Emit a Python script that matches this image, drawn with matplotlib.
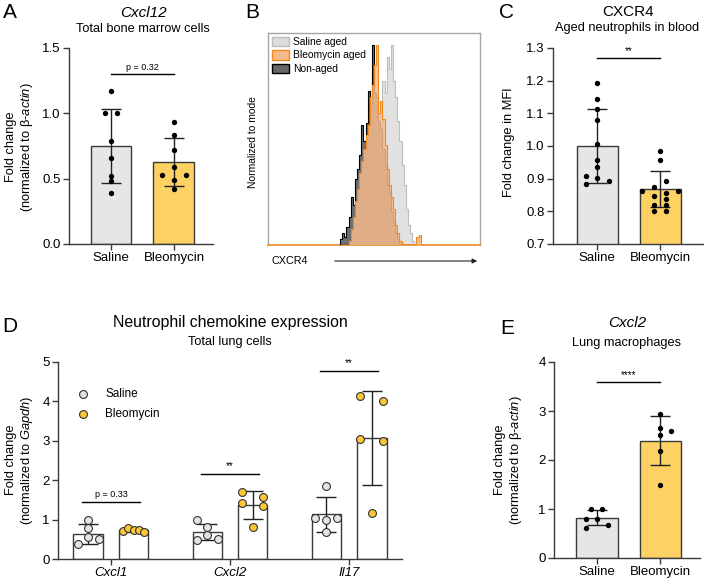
import matplotlib
matplotlib.use('Agg')
import matplotlib.pyplot as plt
from matplotlib.patches import Patch, FancyArrowPatch
import numpy as np

W, H = 704, 587
plt.rcParams['font.family'] = ['Liberation Sans', 'DejaVu Sans']
plt.rcParams['mathtext.fontset'] = 'custom'
plt.rcParams['mathtext.rm'] = 'Liberation Sans'
plt.rcParams['mathtext.it'] = 'Liberation Sans:italic'

# ---------------- data ----------------
groups = ['Saline', 'Bleomycin']

# A: Cxcl12 bone marrow
a_means = [0.75, 0.63]
a_sds = [0.284, 0.185]
a_sal = [1.17, 1.0, 1.0, 0.79, 0.66, 0.52, 0.48, 0.39]
a_sal_off = [0, -0.09, 0.09, 0, 0, 0, 0, 0]
a_bleo = [0.936, 0.834, 0.72, 0.587, 0.525, 0.525, 0.49, 0.418]
a_bleo_off = [0, 0, 0, 0, -0.19, 0.19, 0, 0]

# B: CXCR4 histograms (normalized to mode)
b_edges = list(range(33, 74))
b_saline_aged = [0, 0, 0, 0, 0, 0, 0, 2, 6, 10, 16, 22, 28, 34, 40, 46, 50, 55, 52, 62,
                 58, 82, 76, 94, 88, 100, 82, 74, 62, 52, 40, 30, 18, 10, 6, 2, 0, 3, 0, 0]
b_bleo_aged = [0, 0, 0, 0, 0, 2, 8, 14, 22, 28, 36, 42, 48, 55, 60, 74, 80, 90, 100, 66,
               72, 63, 50, 38, 30, 24, 18, 10, 6, 2, 0, 0, 0, 0, 0, 0, 0, 4, 5, 0]
b_non_aged = [0, 3, 6, 4, 9, 14, 24, 20, 33, 38, 45, 60, 52, 61, 77, 70, 100, 76, 74, 62,
              58, 48, 40, 30, 26, 17, 12, 6, 3, 1, 0, 0, 0, 0, 0, 0, 0, 0, 0, 0]
b_labels = ['Saline aged', 'Bleomycin aged', 'Non-aged']

# C: CXCR4 MFI
c_means = [1.0, 0.868]
c_sds = [0.112, 0.055]
c_sal = [1.192, 1.143, 1.113, 1.079, 1.006, 0.957, 0.935, 0.907, 0.903, 0.892, 0.884]
c_sal_off = [0, 0, 0, 0, 0, 0, 0, -0.17, 0, 0.19, -0.17]
c_bleo = [0.986, 0.957, 0.894, 0.875, 0.863, 0.863, 0.857, 0.847, 0.837, 0.82, 0.82, 0.802, 0.802]
c_bleo_off = [0, 0, 0.1, -0.095, -0.28, 0.29, 0.1, -0.095, 0.1, -0.095, 0.1, -0.095, 0.1]

# D: neutrophil chemokines
d_genes = ['Cxcl1', 'Cxcl2', 'Il17']
d_sal_means = [0.64, 0.68, 1.13]
d_sal_sds = [0.25, 0.21, 0.44]
d_bleo_means = [0.73, 1.37, 3.08]
d_bleo_sds = [0.04, 0.35, 1.19]
d_sal_pts = [[1.0, 0.78, 0.55, 0.5, 0.37],
             [1.0, 0.8, 0.61, 0.48, 0.52],
             [1.86, 1.05, 1.0, 1.05, 0.69]]
d_sal_off = [[0, 0, 0, 0.09, -0.09],
             [-0.09, 0, 0, -0.09, 0.09],
             [0, -0.095, 0, 0.092, 0]]
d_bleo_pts = [[0.72, 0.78, 0.74, 0.74, 0.68],
              [1.69, 1.58, 1.41, 1.35, 0.8],
              [4.14, 4.02, 3.04, 3.0, 1.18]]
d_bleo_off = [[-0.09, -0.048, 0, 0.042, 0.09],
              [-0.09, 0.09, -0.09, 0.09, 0],
              [-0.095, 0.092, -0.095, 0.092, 0]]
d_sig = ['p = 0.33', '**', '**']
d_sig_y = [1.45, 2.17, 4.78]

# E: Cxcl2 lung macrophages
e_means = [0.82, 2.39]
e_sds = [0.15, 0.5]
e_sal = [0.99, 0.99, 0.80, 0.80, 0.68, 0.61]
e_sal_off = [-0.09, 0.085, -0.18, 0, 0.17, -0.18]
e_bleo = [2.93, 2.66, 2.59, 2.52, 2.18, 1.50]
e_bleo_off = [0, 0, 0.17, 0, 0, 0]

# ---------------- styles ----------------
C_SAL = '#e6e6e6'
C_BLEO = '#fed165'
EDGE = '#3a3a3a'
TICK_FS = 9.5
LAB_FS = 9.3
TITLE_FS = 11
SUB_FS = 9.2
LETTER_FS = 15

fig = plt.figure(figsize=(W / 100, H / 100), dpi=100)


def axpx(l, t, r, b):
    return fig.add_axes([l / W, 1 - b / H, (r - l) / W, (b - t) / H])


def ftext(x, y, s, **kw):
    fig.text(x / W, 1 - y / H, s, **kw)


def style_ax(ax):
    for s in ['top', 'right']:
        ax.spines[s].set_visible(False)
    for s in ['left', 'bottom']:
        ax.spines[s].set_color(EDGE)
        ax.spines[s].set_linewidth(1.0)
    ax.tick_params(direction='out', length=4, width=1, color=EDGE, labelsize=TICK_FS, pad=2)
    ax.patch.set_alpha(0)


def bar_panel(ax, means, sds, pts, offs, xlim, ylim, yticks, yfmt, sig_y, sig_txt, sig_fs):
    x = np.arange(len(means))
    ax.bar(x, means, width=0.65, color=[C_SAL, C_BLEO], edgecolor=EDGE, linewidth=1.0, zorder=1)
    ax.errorbar(x, means, yerr=sds, fmt='none', ecolor='#222222', elinewidth=1.0,
                capsize=7.5, capthick=1.0, zorder=2)
    for i in range(len(means)):
        ax.scatter(np.array(offs[i]) + i, pts[i], s=15, color='black', zorder=3, linewidths=0)
    ax.set_xlim(*xlim)
    ax.set_ylim(*ylim)
    ax.set_xticks(x)
    ax.set_xticklabels(groups)
    ax.set_yticks(yticks)
    ax.set_yticklabels([yfmt.format(v) for v in yticks])
    ax.plot([0, 1], [sig_y, sig_y], color='black', lw=1.0, zorder=4)
    span = ylim[1] - ylim[0]
    ax.text(0.5, sig_y + span * 0.012, sig_txt, ha='center', va='bottom', fontsize=sig_fs)
    style_ax(ax)


# ---------------- Panel A ----------------
axA = axpx(69, 48, 213, 244)
bar_panel(axA, a_means, a_sds, [a_sal, a_bleo], [a_sal_off, a_bleo_off],
          (-0.667, 1.62), (0, 1.5), [0, 0.5, 1.0, 1.5], '{:.1f}', 1.30, 'p = 0.32', 6.5)
ftext(3, 13, 'A', fontsize=LETTER_FS, va='center', ha='left')
ftext(143, 13, 'Cxcl12', fontsize=TITLE_FS, style='italic', ha='center', va='center')
ftext(143, 29, 'Total bone marrow cells', fontsize=SUB_FS, ha='center', va='center')
ftext(20, 147, 'Fold change\n(normalized to β-$\\mathit{actin}$)', fontsize=LAB_FS,
      rotation=90, ha='center', va='center', multialignment='center', linespacing=1.15)

# ---------------- Panel B ----------------
axB = axpx(268, 33, 480, 245)
axB.stairs(b_saline_aged, b_edges, fill=True, color='#dcdcdc', alpha=0.85, zorder=1)
axB.stairs(b_saline_aged, b_edges, color='#bdbdbd', lw=0.8, zorder=2)
axB.stairs(b_non_aged, b_edges, fill=True, color='#555555', alpha=0.85, zorder=3)
axB.stairs(b_non_aged, b_edges, color='black', lw=0.8, zorder=4)
axB.stairs(b_bleo_aged, b_edges, fill=True, color='#f4b98c', alpha=0.85, zorder=5)
axB.stairs(b_bleo_aged, b_edges, color='#f08a1e', lw=0.8, zorder=6)
axB.set_xlim(0, 100)
axB.set_ylim(0, 106)
axB.set_xticks([])
axB.set_yticks([])
for s in ['top', 'right', 'left']:
    axB.spines[s].set_color('#a6a6a6')
    axB.spines[s].set_linewidth(1.0)
axB.spines['bottom'].set_color('#f08a1e')
axB.spines['bottom'].set_linewidth(1.2)
handles = [Patch(facecolor='#dcdcdc', edgecolor='#bdbdbd'),
           Patch(facecolor='#f4b98c', edgecolor='#f08a1e'),
           Patch(facecolor='#666666', edgecolor='black')]
axB.legend(handles, b_labels, loc='upper left', frameon=False, fontsize=7.4,
           handlelength=1.6, handleheight=1.0, handletextpad=0.4, labelspacing=0.3,
           borderaxespad=0.2, borderpad=0.2)
ftext(245, 13, 'B', fontsize=LETTER_FS, va='center', ha='left')
ftext(253, 142, 'Normalized to mode', fontsize=7.4, rotation=90, ha='center', va='center')
ftext(271, 261, 'CXCR4', fontsize=7.8, ha='left', va='center')
fig.add_artist(FancyArrowPatch((332 / W, 1 - 261 / H), (480 / W, 1 - 261 / H),
                               transform=fig.transFigure, arrowstyle='-|>',
                               mutation_scale=7, lw=0.8, color='#222222'))

# ---------------- Panel C ----------------
axC = axpx(553, 48, 703, 244)
bar_panel(axC, c_means, c_sds, [c_sal, c_bleo], [c_sal_off, c_bleo_off],
          (-0.70, 1.68), (0.7, 1.3), [0.7, 0.8, 0.9, 1.0, 1.1, 1.2, 1.3], '{:.1f}', 1.269, '**', 7)
ftext(499, 13, 'C', fontsize=LETTER_FS, va='center', ha='left')
ftext(628, 12, 'CXCR4', fontsize=TITLE_FS, ha='center', va='center')
ftext(627, 28, 'Aged neutrophils in blood', fontsize=SUB_FS, ha='center', va='center')
ftext(509, 142, 'Fold change in MFI', fontsize=LAB_FS, rotation=90, ha='center', va='center')

# ---------------- Panel D ----------------
axD = axpx(58, 362, 402, 559)
xg = np.arange(len(d_genes))
bw, bo = 0.25, 0.19
axD.bar(xg - bo, d_sal_means, width=bw, color='white', edgecolor=EDGE, linewidth=1.0, zorder=1)
axD.bar(xg + bo, d_bleo_means, width=bw, color='white', edgecolor=EDGE, linewidth=1.0, zorder=1)
axD.errorbar(xg - bo, d_sal_means, yerr=d_sal_sds, fmt='none', ecolor='#222222', elinewidth=1.0,
             capsize=7.5, capthick=1.0, zorder=2)
axD.errorbar(xg + bo, d_bleo_means, yerr=d_bleo_sds, fmt='none', ecolor='#222222', elinewidth=1.0,
             capsize=7.5, capthick=1.0, zorder=2)
for i in range(len(d_genes)):
    axD.scatter(np.array(d_sal_off[i]) + i - bo, d_sal_pts[i], s=32, color='#e4e4e4',
                edgecolors='#333333', linewidths=0.8, zorder=3)
    axD.scatter(np.array(d_bleo_off[i]) + i + bo, d_bleo_pts[i], s=32, color='#fcc636',
                edgecolors='#333333', linewidths=0.8, zorder=3)
    axD.plot([i - 0.24, i + 0.24], [d_sig_y[i], d_sig_y[i]], color='black', lw=1.0, clip_on=False)
    axD.text(i, d_sig_y[i] + 0.07, d_sig[i], ha='center', va='bottom',
             fontsize=6.5 if d_sig[i].startswith('p') else 7, clip_on=False)
axD.set_xlim(-0.445, 2.445)
axD.set_ylim(0, 5)
axD.set_xticks(xg)
axD.set_xticklabels(d_genes, style='italic')
axD.set_yticks([0, 1, 2, 3, 4, 5])
style_ax(axD)
axD.scatter([-0.235], [4.2], s=32, color='#e4e4e4', edgecolors='#333333', linewidths=0.8, clip_on=False)
axD.scatter([-0.235], [3.69], s=32, color='#fcc636', edgecolors='#333333', linewidths=0.8, clip_on=False)
axD.text(-0.05, 4.2, groups[0], fontsize=8.5, va='center', ha='left')
axD.text(-0.05, 3.69, groups[1], fontsize=8.5, va='center', ha='left')
ftext(2, 327, 'D', fontsize=LETTER_FS, va='center', ha='left')
ftext(230, 323, 'Neutrophil chemokine expression', fontsize=11.4, ha='center', va='center')
ftext(230, 342, 'Total lung cells', fontsize=SUB_FS, ha='center', va='center')
ftext(20, 460, 'Fold change\n(normalized to $\\mathit{Gapdh}$)', fontsize=LAB_FS,
      rotation=90, ha='center', va='center', multialignment='center', linespacing=1.15)

# ---------------- Panel E ----------------
axE = axpx(554, 362, 700, 558)
bar_panel(axE, e_means, e_sds, [e_sal, e_bleo], [e_sal_off, e_bleo_off],
          (-0.68, 1.63), (0, 4), [0, 1, 2, 3, 4], '{:d}', 3.59, '****', 7)
ftext(500, 328, 'E', fontsize=LETTER_FS, va='center', ha='left')
ftext(627, 323, 'Cxcl2', fontsize=TITLE_FS, style='italic', ha='center', va='center')
ftext(627, 343, 'Lung macrophages', fontsize=SUB_FS, ha='center', va='center')
ftext(509, 460, 'Fold change\n(normalized to β-$\\mathit{actin}$)', fontsize=LAB_FS,
      rotation=90, ha='center', va='center', multialignment='center', linespacing=1.15)

fig.savefig('out.png', dpi=100, facecolor='white')
